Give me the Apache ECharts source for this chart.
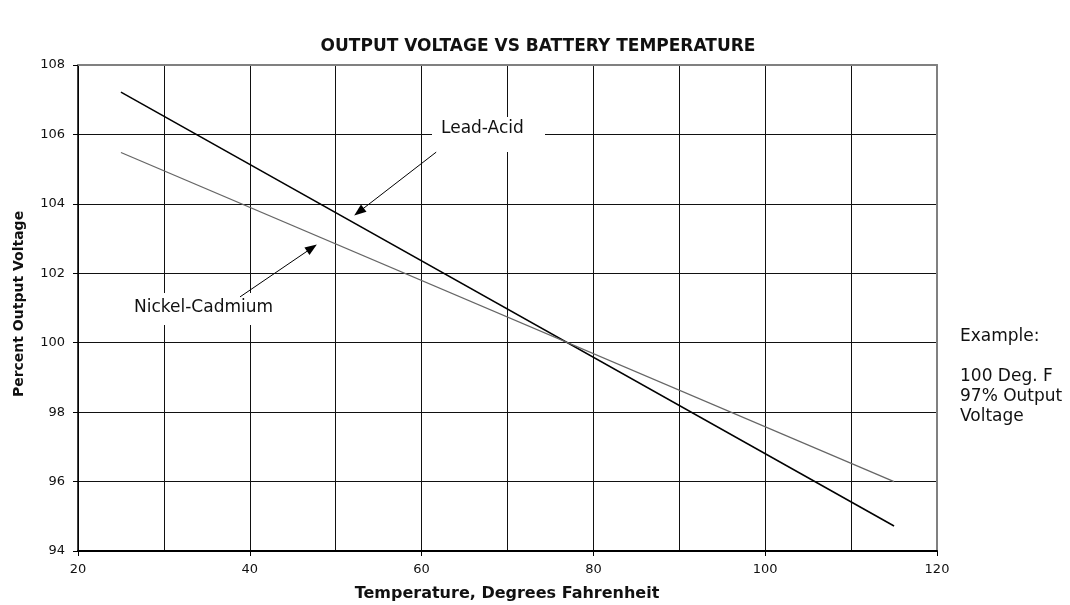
<!DOCTYPE html>
<html>
<head>
<meta charset="utf-8">
<script src="https://cdn.jsdelivr.net/npm/echarts@6/dist/echarts.min.js"></script>
<style>html,body{margin:0;padding:0;background:#fff;}#c{width:1070px;height:605px;}</style>
</head>
<body>
<div id="c"></div>
<script>
// ---- data ----
const temperatures = [25, 115];
const leadAcid = [107.22, 94.72];
const nickelCadmium = [105.48, 96.0];
const xRange = [20, 120];
const yRange = [94, 108];
// annotation arrows in data coordinates: [fromX, fromY, toX, toY]
const leadArrow = [61.7, 105.49, 52.71, 103.77];
const nicadArrow = [38.86, 101.32, 47.23, 102.73];
const exampleArrow = [122.44, 99.07, 101.41, 96.87];

const FONT = '"DejaVu Sans", sans-serif';

function pairs(xs, ys) { return xs.map((x, i) => [x, ys[i]]); }
function arrow(a) { return [{ coord: [a[0], a[1]] }, { coord: [a[2], a[3]] }]; }

const chart = echarts.init(document.getElementById('c'), null, { renderer: 'canvas' });
chart.setOption({
  animation: false,
  backgroundColor: '#fff',
  grid: { left: 78, right: 133, top: 65, bottom: 54, containLabel: false },
  xAxis: [{
    type: 'value', min: xRange[0], max: xRange[1], interval: 20,
    axisLine: { show: true, onZero: false, lineStyle: { color: '#000', width: 2 } },
    axisTick: { show: true, length: 5, lineStyle: { color: '#000', width: 1 } },
    minorTick: { show: false, splitNumber: 2 },
    axisLabel: { color: '#111', fontFamily: FONT, fontSize: 13, margin: 12 },
    splitLine: { show: true, lineStyle: { color: '#111', width: 1 } },
    minorSplitLine: { show: true, lineStyle: { color: '#111', width: 1 } }
  }, {
    type: 'value', position: 'top', min: xRange[0], max: xRange[1], interval: 20,
    axisLine: { show: true, onZero: false, lineStyle: { color: '#808080', width: 2 } },
    axisTick: { show: false }, axisLabel: { show: false }, splitLine: { show: false }
  }],
  yAxis: [{
    type: 'value', min: yRange[0], max: yRange[1], interval: 2,
    axisLine: { show: true, onZero: false, lineStyle: { color: '#000', width: 1.5 } },
    axisTick: { show: true, length: 5, lineStyle: { color: '#000', width: 1 } },
    axisLabel: { color: '#111', fontFamily: FONT, fontSize: 13, margin: 13 },
    splitLine: { show: true, lineStyle: { color: '#111', width: 1 } }
  }, {
    type: 'value', position: 'right', min: yRange[0], max: yRange[1], interval: 2,
    axisLine: { show: true, onZero: false, lineStyle: { color: '#808080', width: 2 } },
    axisTick: { show: false }, axisLabel: { show: false }, splitLine: { show: false }
  }],
  series: [{
    name: 'Lead-Acid', type: 'line', data: pairs(temperatures, leadAcid),
    symbol: 'none', clip: false, z: 3,
    lineStyle: { color: '#000', width: 1.5 },
    markLine: {
      silent: true, symbol: ['none', 'triangle'], symbolSize: [9, 12],
      label: { show: false },
      lineStyle: { color: '#000', width: 1, type: 'solid' },
      data: [arrow(leadArrow), arrow(nicadArrow), arrow(exampleArrow)]
    }
  }, {
    name: 'Nickel-Cadmium', type: 'line', data: pairs(temperatures, nickelCadmium),
    symbol: 'none', clip: false, z: 3,
    lineStyle: { color: '#666', width: 1.3 }
  }],
  graphic: [
    { type: 'text', z: 5, style: { text: 'OUTPUT VOLTAGE VS BATTERY TEMPERATURE', x: 538, y: 47, align: 'center', verticalAlign: 'middle', font: 'bold 17px ' + FONT, fill: '#111' } },
    { type: 'text', z: 5, rotation: Math.PI / 2, x: 19, y: 304, style: { text: 'Percent Output Voltage', x: 0, y: 0, align: 'center', verticalAlign: 'middle', font: 'bold 14px ' + FONT, fill: '#111' } },
    { type: 'text', z: 5, style: { text: 'Temperature, Degrees Fahrenheit', x: 507, y: 594, align: 'center', verticalAlign: 'middle', font: 'bold 16px ' + FONT, fill: '#111' } },
    { type: 'rect', z: 1, shape: { x: 432, y: 117, width: 113, height: 35 }, style: { fill: '#fff' } },
    { type: 'text', z: 5, style: { text: 'Lead-Acid', x: 441, y: 129, align: 'left', verticalAlign: 'middle', font: '17px ' + FONT, fill: '#111' } },
    { type: 'rect', z: 1, shape: { x: 125, y: 293, width: 167, height: 32 }, style: { fill: '#fff' } },
    { type: 'text', z: 5, style: { text: 'Nickel-Cadmium', x: 134, y: 308, align: 'left', verticalAlign: 'middle', font: '17px ' + FONT, fill: '#111' } },
    { type: 'text', z: 5, style: { text: 'Example:\n\n100 Deg. F\n97% Output\nVoltage', x: 960, y: 327, align: 'left', verticalAlign: 'top', lineHeight: 20, font: '17px ' + FONT, fill: '#111' } }
  ]
});
</script>
</body>
</html>
